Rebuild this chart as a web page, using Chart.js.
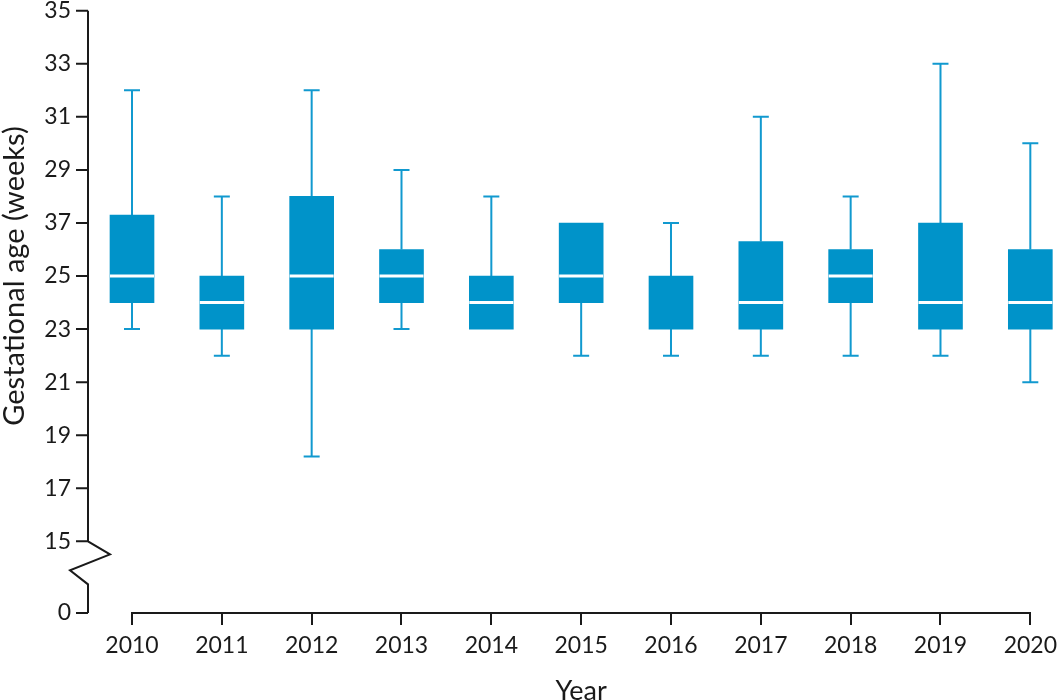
<!DOCTYPE html>
<html>
<head>
<meta charset="utf-8">
<script src="https://cdn.jsdelivr.net/npm/chart.js@4.4.1/dist/chart.umd.min.js"></script>
<style>
  html, body { margin:0; padding:0; background:#fff; }
</style>
</head>
<body>
<canvas id="chart" width="1064" height="700"></canvas>
<script>
// data
const years = ["2010","2011","2012","2013","2014","2015","2016","2017","2018","2019","2020"];
const whiskerLow  = [23, 22, 18.2, 23, 23, 22, 22, 22, 22, 22, 21];
const q1          = [24, 23, 23,   24, 23, 24, 23, 23, 24, 23, 23];
const median      = [25, 24, 25,   25, 24, 25, 23, 24, 25, 24, 24];
const q3          = [27.3, 25, 28, 26, 25, 27, 25, 26.3, 26, 27, 26];
const whiskerHigh = [32, 28, 32,   29, 28, 27, 27, 31, 28, 33, 30];

// y ticks (the axis is broken between 0 and 15)
const tickValues = [0, 15, 17, 19, 21, 23, 25, 27, 29, 31, 33, 35];
const tickLabels = ["0","15","17","19","21","23","25","37","29","31","33","35"];

const axisFloor = 12.3;   // where "0" sits on the compressed part of the axis
const breakAt = 15;
const ink = "#1a1a1a";
const boxBlue = "#0093c9";
const whiskerBlue = "#1199cf";

const boxPlot = {
  id: "boxPlot",
  // whiskers go under the boxes
  beforeDatasetsDraw(chart) {
    const {ctx, scales: {x, y}} = chart;
    ctx.save();
    ctx.strokeStyle = whiskerBlue;
    ctx.lineWidth = 2;
    years.forEach((yr, i) => {
      const px = x.getPixelForValue(i);
      ctx.beginPath();
      if (whiskerHigh[i] > q3[i]) {
        const top = y.getPixelForValue(whiskerHigh[i]);
        ctx.moveTo(px, y.getPixelForValue(q3[i]));
        ctx.lineTo(px, top);
        ctx.moveTo(px - 8, top);
        ctx.lineTo(px + 8, top);
      }
      if (whiskerLow[i] < q1[i]) {
        const bot = y.getPixelForValue(whiskerLow[i]);
        ctx.moveTo(px, y.getPixelForValue(q1[i]));
        ctx.lineTo(px, bot);
        ctx.moveTo(px - 8, bot);
        ctx.lineTo(px + 8, bot);
      }
      ctx.stroke();
    });
    ctx.restore();
  },
  // white median line
  afterDatasetsDraw(chart) {
    const {ctx, scales: {x, y}} = chart;
    ctx.save();
    ctx.strokeStyle = "#fff";
    ctx.lineWidth = 3;
    years.forEach((yr, i) => {
      if (median[i] <= q1[i] || median[i] >= q3[i]) return;
      const px = x.getPixelForValue(i);
      const py = y.getPixelForValue(median[i]);
      ctx.beginPath();
      ctx.moveTo(px - 22, py);
      ctx.lineTo(px + 22, py);
      ctx.stroke();
    });
    ctx.restore();
  },
  // y axis line with the break, tick marks and title
  afterDraw(chart) {
    const {ctx, chartArea, scales: {y}} = chart;
    const ax = chartArea.left - 44;
    const pTop = y.getPixelForValue(35);
    const pBreak = y.getPixelForValue(breakAt);
    const pZero = y.getPixelForValue(axisFloor);
    ctx.save();
    ctx.strokeStyle = ink;
    ctx.lineWidth = 2;
    ctx.lineJoin = "miter";
    ctx.beginPath();
    ctx.moveTo(ax, pTop);
    ctx.lineTo(ax, pBreak);
    ctx.lineTo(ax + 22, pBreak + 13);
    ctx.lineTo(ax - 18, pBreak + 29);
    ctx.lineTo(ax, pBreak + 43);
    ctx.lineTo(ax, pZero);
    y.ticks.forEach(t => {
      const py = y.getPixelForValue(t.value);
      ctx.moveTo(ax - 12, py);
      ctx.lineTo(ax, py);
    });
    ctx.stroke();

    ctx.fillStyle = ink;
    ctx.font = "29px Lato";
    ctx.textAlign = "center";
    ctx.textBaseline = "alphabetic";
    ctx.translate(24, (pTop + pBreak) / 2);
    ctx.rotate(-Math.PI / 2);
    ctx.fillText("Gestational age (weeks)", 0, 0);
    ctx.restore();
  }
};

new Chart(document.getElementById("chart"), {
  type: "bar",
  data: {
    labels: years,
    datasets: [{
      data: years.map((yr, i) => [q1[i], q3[i]]),
      backgroundColor: boxBlue,
      borderWidth: 0,
      barThickness: 44,
      clip: false
    }]
  },
  options: {
    responsive: false,
    animation: false,
    layout: { padding: { top: 10.7, right: 33, bottom: 0, left: 0 } },
    plugins: {
      legend: { display: false },
      tooltip: { enabled: false }
    },
    scales: {
      x: {
        offset: false,
        grid: { offset: false, drawOnChartArea: false, tickLength: 12, color: ink, lineWidth: 2 },
        border: { display: true, color: ink, width: 2 },
        ticks: { color: ink, font: { family: "Lato", size: 23 }, padding: 7, maxRotation: 0 },
        title: { display: true, text: "Year", color: ink, font: { family: "Lato", size: 27, lineHeight: 1 }, padding: { top: 0, bottom: -5 } },
        afterFit: s => { s.height = 87; }
      },
      y: {
        min: axisFloor,
        max: 35,
        grid: { display: false, drawTicks: false },
        border: { display: false },
        ticks: {
          color: ink,
          font: { family: "Lato", size: 23, lineHeight: 1 },
          padding: 61,
          callback: (v, i) => tickLabels[i]
        },
        afterBuildTicks: s => {
          s.ticks = tickValues.map(v => ({ value: v < breakAt ? axisFloor : v }));
        },
        afterFit: s => {
          s.width = 132;
          s.paddingTop = 0;
          s.paddingBottom = 0;
        }
      }
    }
  },
  plugins: [boxPlot]
});
</script>
</body>
</html>
